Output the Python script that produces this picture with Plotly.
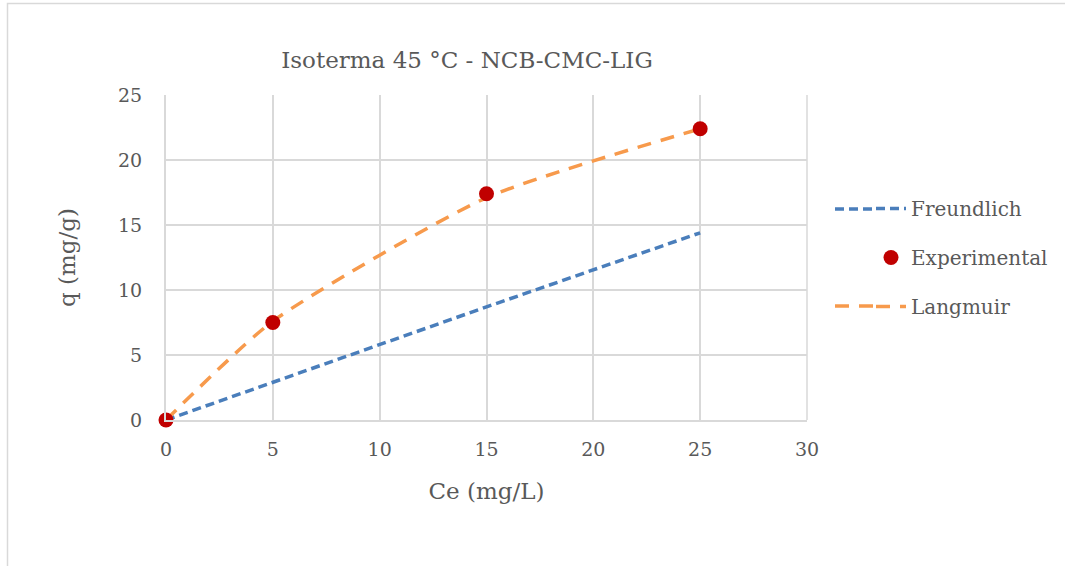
import plotly.graph_objects as go

# Isotherm data at 45 °C
ce_exp = [0, 5, 15, 25]
q_exp = [0, 7.5, 17.4, 22.4]

ce_model = [0, 5, 15, 25]
q_freundlich = [0, 2.9, 8.7, 14.4]
q_langmuir = [0, 7.6, 17.1, 22.4]

x_ticks = [0, 5, 10, 15, 20, 25, 30]
y_ticks = [0, 5, 10, 15, 20, 25]

FONT = "DejaVu Serif, serif"
TEXT = "#595959"
GRID = "#d9d9d9"
BLUE = "#4a7ebb"
ORANGE = "#f79a4c"
BLUE_DASH = "9px,5px"
ORANGE_DASH = "14px,10px"

fig = go.Figure()
fig.add_trace(go.Scatter(
    x=ce_model, y=q_freundlich, name="Freundlich", mode="lines",
    line=dict(color=BLUE, width=3.5, dash=BLUE_DASH),
    legendgroup="a", legendrank=1, cliponaxis=False,
))
fig.add_trace(go.Scatter(
    x=ce_model, y=q_langmuir, name="Langmuir", mode="lines",
    line=dict(color=ORANGE, width=3.5, dash=ORANGE_DASH, shape="spline", smoothing=0.6),
    legendgroup="c", legendrank=3, cliponaxis=False,
))
fig.add_trace(go.Scatter(
    x=ce_exp, y=q_exp, name="Experimental", mode="markers",
    marker=dict(color="#c00000", size=15),
    legendgroup="b", legendrank=2, cliponaxis=False,
))

L, T, W, H = 166, 95, 641, 325


def px_x(px):
    return (px - L) / W


def px_y(py):
    return (T + H - py) / H


fig.update_layout(
    width=1065, height=566,
    margin=dict(l=L, r=1065 - L - W, t=T, b=566 - T - H),
    paper_bgcolor="white", plot_bgcolor="white",
    font=dict(family=FONT, color=TEXT, size=19),
    title=dict(text="Isoterma 45 °C - NCB-CMC-LIG", x=467 / 1065, xanchor="center",
               y=1 - 60 / 566, yanchor="middle", font=dict(size=23, color=TEXT, family=FONT)),
    xaxis=dict(range=[0, 30], tickvals=x_ticks, showgrid=True, gridcolor=GRID, gridwidth=1.5,
               zeroline=False, showline=True, linecolor=GRID, linewidth=2, mirror=False,
               ticks="", ticklabelstandoff=11,
               title=dict(text="Ce (mg/L)", font=dict(size=23, color=TEXT), standoff=24)),
    yaxis=dict(range=[0, 25], tickvals=y_ticks, showgrid=True, gridcolor=GRID, gridwidth=1.5,
               zeroline=False, showline=True, linecolor=GRID, linewidth=2,
               ticks="", ticklabelstandoff=18,
               title=dict(text="q (mg/g)", font=dict(size=23, color=TEXT), standoff=36)),
    legend=dict(x=px_x(871), y=px_y(189), xanchor="left", yanchor="top",
                yref="paper", tracegroupgap=20, font=dict(size=20, color=TEXT),
                traceorder="grouped", bgcolor="rgba(0,0,0,0)"),
    showlegend=True,
)

# chart frame
fig.add_shape(type="rect", xref="paper", yref="paper",
              x0=px_x(7.5), x1=px_x(1080), y0=px_y(600), y1=px_y(3.5),
              line=dict(color=GRID, width=1.5), fillcolor="rgba(0,0,0,0)", layer="below")
# right grid edge
fig.add_shape(type="line", xref="paper", yref="paper", x0=1, x1=1, y0=0, y1=1,
              line=dict(color=GRID, width=1.5), layer="below")

# longer legend line samples
for row_y, color, dash in [(209, BLUE, BLUE_DASH), (306, ORANGE, ORANGE_DASH)]:
    fig.add_shape(type="line", xref="paper", yref="paper",
                  x0=px_x(835), x1=px_x(877), y0=px_y(row_y), y1=px_y(row_y),
                  line=dict(color=color, width=3.5, dash=dash))

fig.write_html("out.html")
